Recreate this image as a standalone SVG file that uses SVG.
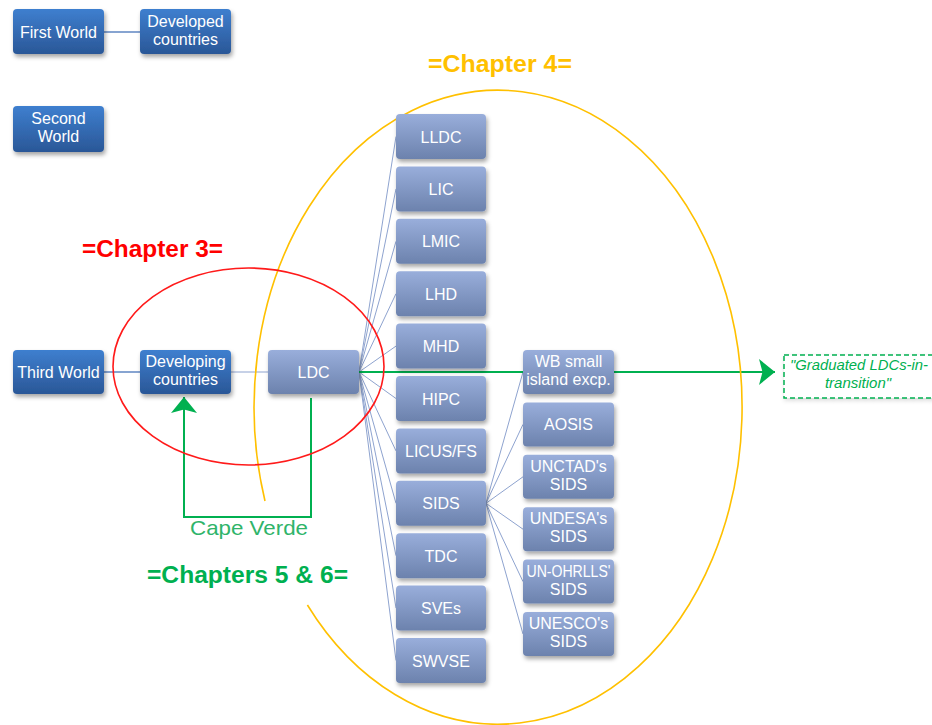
<svg xmlns="http://www.w3.org/2000/svg" width="932" height="725" viewBox="0 0 932 725">
<defs>
<linearGradient id="gDark" x1="0" y1="0" x2="0" y2="1">
<stop offset="0" stop-color="#3e7fcf"/>
<stop offset="1" stop-color="#2a5797"/>
</linearGradient>
<linearGradient id="gLight" x1="0" y1="0" x2="0" y2="1">
<stop offset="0" stop-color="#99aedb"/>
<stop offset="1" stop-color="#6c82ad"/>
</linearGradient>
<filter id="sh" x="-20%" y="-20%" width="150%" height="160%">
<feDropShadow dx="1.5" dy="3" stdDeviation="2" flood-color="#000" flood-opacity="0.35"/>
</filter>
<filter id="shLight" x="-10%" y="-20%" width="130%" height="160%">
<feDropShadow dx="1" dy="2" stdDeviation="2" flood-color="#000" flood-opacity="0.15"/>
</filter>
<marker id="arrG" markerUnits="userSpaceOnUse" markerWidth="18" markerHeight="28" refX="16" refY="14" orient="auto">
<path d="M0,1 L16,14 L0,27 L3.5,14 z" fill="#00b050"/>
</marker>
</defs>
<style>
.dk{fill:url(#gDark);filter:url(#sh)}
.lt{fill:url(#gLight);filter:url(#sh)}
.t{font-family:"Liberation Sans",Arial,sans-serif;font-size:16px;fill:#ffffff;text-anchor:middle}
.c{stroke:#8ea3cf;stroke-width:1;fill:none}
.cd{stroke:#5f86c2;stroke-width:1.3;fill:none}
.gr{stroke:#00b050;stroke-width:2;fill:none}
.lbl{font-family:"Liberation Sans",Arial,sans-serif;font-weight:bold;font-size:23px}
.gt{font-family:"Liberation Sans",Arial,sans-serif;font-size:15px;font-style:italic;fill:#00b050;text-anchor:middle}
</style>
<rect width="932" height="725" fill="#ffffff"/>

<g id="connectors">
<line class="cd" x1="104" y1="32" x2="140" y2="32"/>
<line class="cd" x1="104" y1="372" x2="140" y2="372"/>
<line class="c" x1="231" y1="372" x2="268" y2="372"/>
<line class="c" x1="359" y1="372" x2="396" y2="136.5"/>
<line class="c" x1="359" y1="372" x2="396" y2="188.9"/>
<line class="c" x1="359" y1="372" x2="396" y2="241.3"/>
<line class="c" x1="359" y1="372" x2="396" y2="293.7"/>
<line class="c" x1="359" y1="372" x2="396" y2="346.1"/>
<line class="c" x1="359" y1="372" x2="396" y2="398.5"/>
<line class="c" x1="359" y1="372" x2="396" y2="450.9"/>
<line class="c" x1="359" y1="372" x2="396" y2="503.3"/>
<line class="c" x1="359" y1="372" x2="396" y2="555.7"/>
<line class="c" x1="359" y1="372" x2="396" y2="608.1"/>
<line class="c" x1="359" y1="372" x2="396" y2="660.5"/>
<line class="c" x1="486" y1="503.3" x2="523" y2="372"/>
<line class="c" x1="486" y1="503.3" x2="523" y2="424.4"/>
<line class="c" x1="486" y1="503.3" x2="523" y2="476.8"/>
<line class="c" x1="486" y1="503.3" x2="523" y2="529.2"/>
<line class="c" x1="486" y1="503.3" x2="523" y2="581.6"/>
<line class="c" x1="486" y1="503.3" x2="523" y2="634"/>
<line class="gr" x1="359" y1="372" x2="775" y2="372" marker-end="url(#arrG)"/>
<polyline class="gr" points="311,398 311,517 184,517 184,397" marker-end="url(#arrG)"/>
</g>

<g id="chapter-ellipses">
<path d="M307.4,605 A244,317 0 1 0 265,501" fill="none" stroke="#ffc000" stroke-width="1.6"/>
<ellipse cx="248.5" cy="366.5" rx="135.5" ry="98.5" fill="none" stroke="#ff1a1a" stroke-width="1.6"/>
</g>

<g id="n-first-world"><rect class="dk" x="13" y="9" width="91" height="45" rx="4"/><text class="t" x="58.5" y="37.5">First World</text></g>
<g id="n-developed"><rect class="dk" x="140" y="9" width="91" height="45" rx="4"/><text class="t" x="185.5" y="26.5">Developed</text><text class="t" x="185.5" y="44.5">countries</text></g>
<g id="n-second-world"><rect class="dk" x="13" y="106" width="91" height="46" rx="4"/><text class="t" x="58.5" y="124">Second</text><text class="t" x="58.5" y="142">World</text></g>
<g id="n-third-world"><rect class="dk" x="13" y="350" width="91" height="44" rx="4"/><text class="t" x="58.5" y="378">Third World</text></g>
<g id="n-developing"><rect class="dk" x="140" y="350" width="91" height="44" rx="4"/><text class="t" x="185.5" y="367">Developing</text><text class="t" x="185.5" y="385">countries</text></g>
<g id="n-ldc"><rect class="lt" x="268" y="350" width="91" height="44" rx="4"/><text class="t" x="313.5" y="378">LDC</text></g>

<g id="n-lldc"><rect class="lt" x="396" y="114" width="90" height="45" rx="4"/><text class="t" x="441" y="142.5">LLDC</text></g>
<g id="n-lic"><rect class="lt" x="396" y="166.4" width="90" height="45" rx="4"/><text class="t" x="441" y="194.9">LIC</text></g>
<g id="n-lmic"><rect class="lt" x="396" y="218.8" width="90" height="45" rx="4"/><text class="t" x="441" y="247.3">LMIC</text></g>
<g id="n-lhd"><rect class="lt" x="396" y="271.2" width="90" height="45" rx="4"/><text class="t" x="441" y="299.7">LHD</text></g>
<g id="n-mhd"><rect class="lt" x="396" y="323.6" width="90" height="45" rx="4"/><text class="t" x="441" y="352.1">MHD</text></g>
<g id="n-hipc"><rect class="lt" x="396" y="376" width="90" height="45" rx="4"/><text class="t" x="441" y="404.5">HIPC</text></g>
<g id="n-licus"><rect class="lt" x="396" y="428.4" width="90" height="45" rx="4"/><text class="t" x="441" y="456.9">LICUS/FS</text></g>
<g id="n-sids"><rect class="lt" x="396" y="480.8" width="90" height="45" rx="4"/><text class="t" x="441" y="509.3">SIDS</text></g>
<g id="n-tdc"><rect class="lt" x="396" y="533.2" width="90" height="45" rx="4"/><text class="t" x="441" y="561.7">TDC</text></g>
<g id="n-sves"><rect class="lt" x="396" y="585.6" width="90" height="45" rx="4"/><text class="t" x="441" y="614.1">SVEs</text></g>
<g id="n-swvse"><rect class="lt" x="396" y="638" width="90" height="45" rx="4"/><text class="t" x="441" y="666.5">SWVSE</text></g>

<g id="n-wb"><rect class="lt" x="523" y="350" width="91" height="44" rx="4"/><text class="t" x="568.5" y="367">WB small</text><text class="t" x="568.5" y="385">island excp.</text></g>
<g id="n-aosis"><rect class="lt" x="523" y="402.4" width="91" height="44" rx="4"/><text class="t" x="568.5" y="430.4">AOSIS</text></g>
<g id="n-unctad"><rect class="lt" x="523" y="454.8" width="91" height="44" rx="4"/><text class="t" x="568.5" y="471.8">UNCTAD's</text><text class="t" x="568.5" y="489.8">SIDS</text></g>
<g id="n-undesa"><rect class="lt" x="523" y="507.2" width="91" height="44" rx="4"/><text class="t" x="568.5" y="524.2">UNDESA's</text><text class="t" x="568.5" y="542.2">SIDS</text></g>
<g id="n-unohrlls"><rect class="lt" x="523" y="559.6" width="91" height="44" rx="4"/><text class="t" x="568.5" y="576.6" textLength="84" lengthAdjust="spacingAndGlyphs">UN-OHRLLS'</text><text class="t" x="568.5" y="594.6">SIDS</text></g>
<g id="n-unesco"><rect class="lt" x="523" y="612" width="91" height="44" rx="4"/><text class="t" x="568.5" y="629">UNESCO's</text><text class="t" x="568.5" y="647">SIDS</text></g>

<g id="n-graduated">
<rect x="784" y="355" width="152" height="43" fill="#ffffff" stroke="#00b050" stroke-width="1.5" stroke-dasharray="5,3" filter="url(#shLight)"/>
<text class="gt" x="859" y="370" textLength="138" lengthAdjust="spacingAndGlyphs">"Graduated LDCs-in-</text>
<text class="gt" x="858" y="388">transition"</text>
</g>

<g id="labels">
<text class="lbl" x="428" y="72" fill="#ffc000" textLength="144" lengthAdjust="spacingAndGlyphs">=Chapter 4=</text>
<text class="lbl" x="82" y="257" fill="#ff0000" textLength="141" lengthAdjust="spacingAndGlyphs">=Chapter 3=</text>
<text class="lbl" x="147" y="583" fill="#00b050" textLength="201" lengthAdjust="spacingAndGlyphs">=Chapters 5 &amp; 6=</text>
<text x="190" y="535" font-family="Liberation Sans,Arial,sans-serif" font-size="21" fill="#2fb46a" textLength="118" lengthAdjust="spacingAndGlyphs">Cape Verde</text>
</g>
</svg>
